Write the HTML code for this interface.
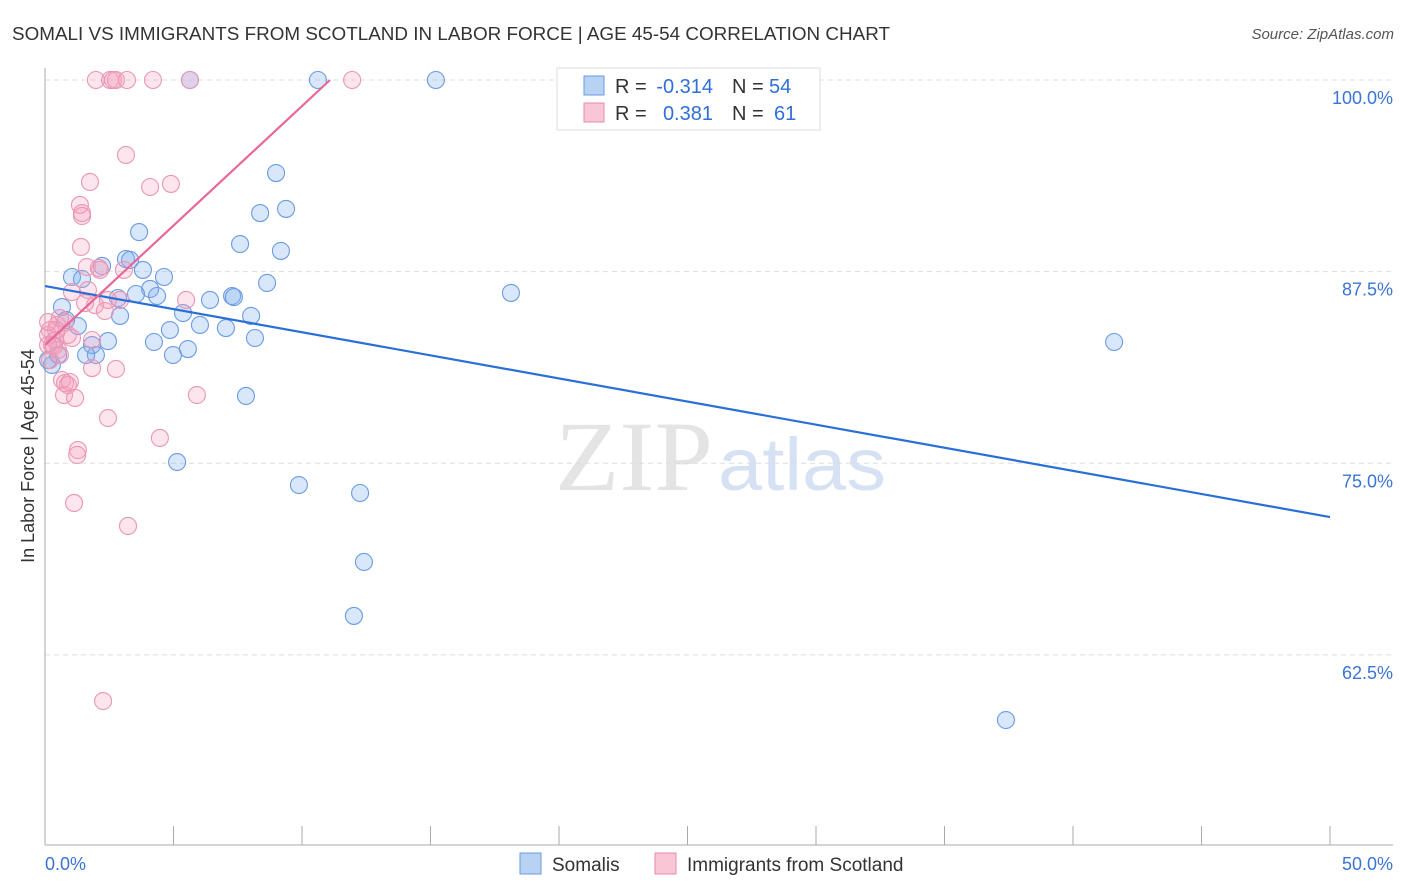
<!DOCTYPE html>
<html><head><meta charset="utf-8"><style>
body{margin:0;background:#fff;font-family:"Liberation Sans",sans-serif;}
svg{display:block}
</style></head><body>
<svg width="1406" height="892" xmlns="http://www.w3.org/2000/svg">
<text x="12" y="40" font-size="18" fill="#333" textLength="878" lengthAdjust="spacingAndGlyphs">SOMALI VS IMMIGRANTS FROM SCOTLAND IN LABOR FORCE | AGE 45-54 CORRELATION CHART</text>
<text x="1394" y="39" font-size="15" fill="#555" font-style="italic" text-anchor="end">Source: ZipAtlas.com</text>
<text x="555" y="490" font-size="100" fill="#e4e4e4" textLength="158" lengthAdjust="spacingAndGlyphs" font-family="Liberation Serif">ZIP</text>
<text x="718" y="490" font-size="74" fill="#d6e2f4" textLength="168" lengthAdjust="spacingAndGlyphs">atlas</text>
<g id="grid"></g>
<g id="axes"></g>
<text transform="translate(34,456) rotate(-90)" font-size="18" fill="#333" text-anchor="middle">In Labor Force | Age 45-54</text>
<g id="marks"></g>
<g id="lines"></g>
<g font-size="20">
<rect x="557" y="68" width="263" height="62" fill="#fff" stroke="#ddd"/>
<rect x="584" y="76" width="20" height="19" fill="#b8d2f4" stroke="#6a9ae0"/>
<text x="615" y="93" fill="#333">R =</text>
<text x="713" y="93" fill="#2f6fd6" text-anchor="end">-0.314</text>
<text x="732" y="93" fill="#333">N =</text>
<text x="769" y="93" fill="#2f6fd6">54</text>
<rect x="584" y="103" width="20" height="19" fill="#f8c6d4" stroke="#e98aa8"/>
<text x="615" y="120" fill="#333">R =</text>
<text x="713" y="120" fill="#2f6fd6" text-anchor="end">0.381</text>
<text x="732" y="120" fill="#333">N =</text>
<text x="774" y="120" fill="#2f6fd6">61</text>
</g>
<g>
<rect x="520" y="853" width="21" height="21" fill="#b8d2f4" stroke="#6a9ae0"/>
<text x="552" y="871" font-size="19" fill="#333">Somalis</text>
<rect x="655" y="853" width="21" height="21" fill="#f8c6d4" stroke="#e98aa8"/>
<text x="687" y="871" font-size="19" fill="#333">Immigrants from Scotland</text>
</g>
</svg>
<script>
const yTicks=[100,87.5,75,62.5];
const yTickLabels=["100.0%","87.5%","75.0%","62.5%"];
const xTickLabels=["0.0%","50.0%"];
const somaliX=[5.64,10.62,15.21,8.99,8.37,9.38,3.66,7.59,9.18,3.15,3.31,3.81,1.05,1.44,4.63,2.22,4.09,3.54,4.36,8.64,6.42,7.28,7.35,0.66,2.84,5.37,8.02,2.92,0.82,1.28,4.86,6.03,7.04,8.17,2.45,4.24,1.83,5.56,4.98,1.98,1.60,0.39,0.27,7.82,5.14,9.88,12.26,12.41,12.02,37.39,41.60,18.13,0.51,0.12];
const somaliY=[100,100,100,93.93,91.32,91.59,90.08,89.30,88.85,88.32,88.26,87.61,87.15,87.02,87.15,87.87,86.37,86.04,85.91,86.76,85.65,85.91,85.84,85.19,85.78,84.80,84.61,84.61,84.34,83.95,83.69,84.02,83.82,83.17,82.97,82.91,82.71,82.45,82.06,82.06,82.06,83.04,81.41,79.39,75.08,73.58,73.06,68.56,65.04,58.25,82.91,86.11,82.06,81.73];
const scotX=[1.98,2.53,2.65,2.76,3.19,4.20,11.95,5.64,3.15,1.75,4.09,4.90,1.36,1.44,1.44,1.40,1.63,2.10,3.07,2.14,1.05,1.56,2.92,5.49,1.95,2.33,0.78,0.47,0.19,0.12,0.89,0.27,1.05,0.51,0.58,0.12,0.66,0.78,0.89,0.74,1.17,1.83,2.76,5.91,2.45,4.47,1.28,1.25,1.13,3.23,2.26,0.39,0.19,0.58,1.67,2.45,1.83,0.43,0.12,0.97,0.35];
const scotY=[100,100,100,100,100,100,100,100,95.11,93.35,93.02,93.22,91.85,91.32,91.13,89.11,87.80,87.74,87.61,87.61,86.17,85.45,85.65,85.65,85.32,84.93,84.21,84.02,83.69,83.37,83.37,82.71,83.17,82.39,82.06,82.71,80.43,80.23,80.10,79.45,79.26,81.21,81.15,79.45,77.95,76.65,75.86,75.54,72.41,70.91,59.49,83.04,81.73,84.47,86.30,85.65,83.04,83.69,84.21,80.30,82.65];
const somaliTrend=[[0,86.56],[50,71.49]];
const scotTrend=[[0,82.71],[11.09,100]];
const NS="http://www.w3.org/2000/svg";
const xs=v=>45+v*25.7, ys=v=>80+(100-v)*15.33;
function mk(t,a,p){const e=document.createElementNS(NS,t);for(const k in a)e.setAttribute(k,a[k]);document.getElementById(p).appendChild(e);return e;}
yTicks.forEach((t,i)=>{
 const l=mk('line',{x1:45,x2:1393,y1:ys(t),y2:ys(t),stroke:'#ddd','stroke-dasharray':'5,4'},'grid');
 
 
 const tx=mk('text',{x:1393,y:ys(t)+24,'font-size':18,fill:'#3a74d4','text-anchor':'end'},'grid');
 tx.textContent=yTickLabels[i];
 
 
});
let a=mk('line',{x1:45,x2:45,y1:68,y2:845,stroke:'#aaa'},'axes');


a=mk('line',{x1:45,x2:1393,y1:845,y2:845,stroke:'#aaa'},'axes');


for(let v=0;v<=50;v+=5){
 const t=mk('line',{x1:xs(v),x2:xs(v),y1:826,y2:845,stroke:'#aaa'},'axes');
 
 
}
[[0,'start'],[50,'end']].forEach((p,i)=>{
 const t=mk('text',{x:xs(p[0])+(i?63:0),y:870,'font-size':18,fill:'#3a74d4','text-anchor':p[1]},'axes');
 t.textContent=xTickLabels[i];
 
 
});
function pts(X,Y,fill,stroke,name){X.forEach((x,i)=>{
 const c=mk('circle',{cx:xs(x),cy:ys(Y[i]),r:8.5,fill:fill,stroke:stroke,'stroke-width':1.1},'marks');
 
 
});}
pts(somaliX,somaliY,'rgba(130,175,240,0.3)','#6a9be3','somali-point');
pts(scotX,scotY,'rgba(245,160,190,0.28)','#eb96b2','scotland-point');
let l=mk('line',{x1:xs(somaliTrend[0][0]),y1:ys(somaliTrend[0][1]),x2:xs(somaliTrend[1][0]),y2:ys(somaliTrend[1][1]),stroke:'#2a6fd6','stroke-width':2.2},'lines');


l=mk('line',{x1:xs(scotTrend[0][0]),y1:ys(scotTrend[0][1]),x2:xs(scotTrend[1][0]),y2:ys(scotTrend[1][1]),stroke:'#e8679a','stroke-width':2.2},'lines');


</script>
</body></html>
